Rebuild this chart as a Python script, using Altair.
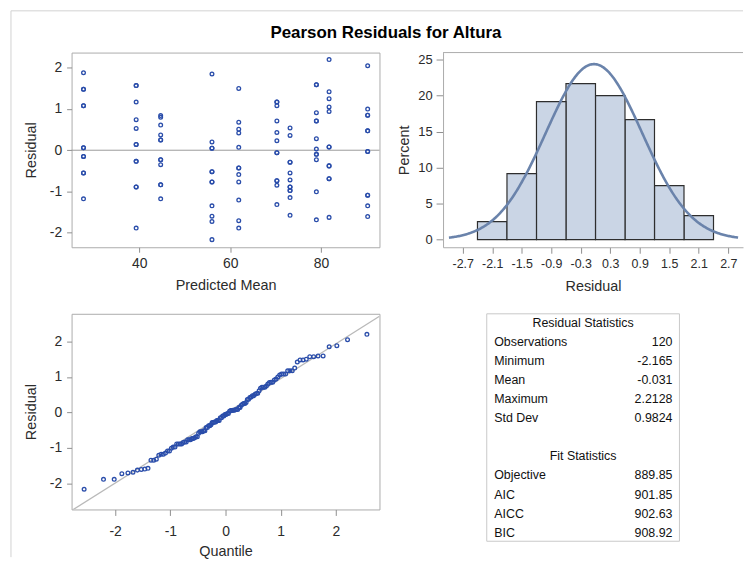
import altair as alt
import pandas as pd
from statistics import NormalDist

# ---------------- data ----------------
pred_means = [27.7, 39.3, 44.7, 56.0, 61.9, 70.3, 73.2, 79.0, 81.8, 90.3]
res_g1 = [1.88, 1.48, 1.48, 1.08, 1.08, 0.06, 0.06, -0.15, -0.15, -0.55, -0.55, -1.18]
res_g2 = [1.57, 1.57, 1.17, 0.74, 0.53, 0.14, 0.14, -0.27, -0.27, -0.89, -0.89, -1.89]
res_g3 = [0.84, 0.80, 0.61, 0.37, 0.25, 0.25, -0.23, -0.23, -0.35, -0.84, -0.84, -1.18]
res_g4 = [1.85, 0.20, 0.05, 0.05, -0.52, -0.52, -0.77, -0.77, -1.35, -1.60, -1.73, -2.17]
res_g5 = [1.50, 0.68, 0.51, 0.42, 0.07, -0.43, -0.43, -0.59, -0.77, -1.21, -1.71, -1.89]
res_g6 = [1.17, 1.17, 1.08, 0.71, 0.43, 0.23, -0.06, -0.06, -0.74, -0.74, -0.85, -1.32]
res_g7 = [0.54, 0.36, -0.29, -0.29, -0.55, -0.72, -0.89, -0.89, -0.98, -0.98, -1.15, -1.58]
res_g8 = [1.59, 1.59, 0.91, 0.71, 0.71, 0.28, 0.03, -0.10, -0.10, -0.23, -1.01, -1.69]
res_g9 = [2.20, 1.42, 1.25, 1.05, 0.94, 0.08, 0.08, -0.38, -0.38, -0.69, -0.69, -1.63]
res_g10 = [2.05, 1.00, 0.85, 0.85, 0.47, 0.47, -0.03, -0.03, -1.09, -1.09, -1.35, -1.61]
residual_groups = [res_g1, res_g2, res_g3, res_g4, res_g5, res_g6, res_g7, res_g8, res_g9, res_g10]

resid_mean = -0.031
resid_sd = 0.9824
bin_width = 0.6
bin_extent = [-2.4, 2.4]

hist_ticks = [-2.7, -2.1, -1.5, -0.9, -0.3, 0.3, 0.9, 1.5, 2.1, 2.7]
pct_ticks = [0, 5, 10, 15, 20, 25]
pred_ticks = [40, 60, 80]
resid_ticks = [-2, -1, 0, 1, 2]
quant_ticks = [-2, -1, 0, 1, 2]

table_label = ["Residual Statistics", "Observations", "Minimum", "Mean", "Maximum", "Std Dev",
               "", "Fit Statistics", "Objective", "AIC", "AICC", "BIC"]
table_value = ["", "120", "-2.165", "-0.031", "2.2128", "0.9824",
               "", "", "889.85", "901.85", "902.63", "908.92"]
table_header = [True, False, False, False, False, False, False, True, False, False, False, False]

chart_title = "Pearson Residuals for Altura"

# ---------------- tables for the library ----------------
rows = []
for pm, grp in zip(pred_means, residual_groups):
    for r in grp:
        rows.append({"pred": pm, "resid": r})
df = pd.DataFrame(rows)
n = len(df)
sorted_res = sorted(df["resid"])
qq_df = pd.DataFrame({
    "resid": sorted_res,
    "quantile": [NormalDist().inv_cdf((i + 1 - 0.375) / (n + 0.25)) for i in range(n)],
})
tab_df = pd.DataFrame({"row": list(range(len(table_label))), "label": table_label,
                       "value": table_value, "header": table_header})
one = pd.DataFrame({"a": [0]})

# ---------------- style ----------------
FONT = "Liberation Sans"
TXT = "#2b2b2b"
FRAME = "#ABABAB"
TICK = "#8E8E8E"
PT = "#2A4DAA"
MINUS_FIX = "replace(datum.label, '\u2212', '-')"

def axis(values, title, fmt, label_size=14, tick=5, label_pad=4, title_pad=6, **kw):
    return alt.Axis(values=values, title=title, format=fmt, labelFontSize=label_size,
                    titleFontSize=14.5, tickSize=tick, labelPadding=label_pad,
                    titlePadding=title_pad, labelExpr=MINUS_FIX, labelOverlap=False,
                    labelFlush=False, **kw)

# ---------------- scatter: residual vs predicted mean ----------------
sx = alt.Scale(domain=[25.07, 92.9], nice=False, zero=False)
sy = alt.Scale(domain=[-2.355, 2.37], nice=False, zero=False)
ax_pred = axis(pred_ticks, "Predicted Mean", "d", title_pad=9)
ax_res1 = axis(resid_ticks, "Residual", "d", label_pad=5, title_pad=11)

pts = alt.Chart(df).mark_point(shape="circle", filled=False, color=PT, size=14,
                               strokeWidth=1.3, opacity=1).encode(
    x=alt.X("pred:Q", scale=sx, axis=ax_pred),
    y=alt.Y("resid:Q", scale=sy, axis=ax_res1),
)
zero_rule = alt.Chart(pd.DataFrame({"resid": [0]})).mark_rule(color="#9A9A9A", strokeWidth=1).encode(
    y=alt.Y("resid:Q", scale=sy, axis=ax_res1))
frame_left = alt.Chart(one).mark_rule(color="#D2D2D2", strokeWidth=1).encode(
    x=alt.value(-61), y=alt.value(-42), y2=alt.value(508))
frame_top = alt.Chart(one).mark_rule(color="#D2D2D2", strokeWidth=1).encode(
    x=alt.value(-61), x2=alt.value(676), y=alt.value(-42))
title_txt = alt.Chart(one).mark_text(text=chart_title, font=FONT, fontSize=17, fontWeight="bold",
                                     color="black", align="center", baseline="middle").encode(
    x=alt.value(316.5), y=alt.value(-20))
scatter = alt.layer(zero_rule, pts, frame_left, frame_top, title_txt).properties(width=310, height=196)

# ---------------- histogram ----------------
hx = alt.Scale(domain=[-3.1, 3.0], nice=False, zero=False)
hy = alt.Scale(domain=[-1.06, 25.97], nice=False, zero=False)
ax_hx = axis(hist_ticks, "Residual", ".1f", label_size=12.5, tick=6, title_pad=10,
             domain=True, domainColor=FRAME)
ax_hy = axis(pct_ticks, "Percent", "d", label_size=13, tick=7, domain=True, domainColor=FRAME)

bars = alt.Chart(df).transform_bin(
    "b0", "resid", bin=alt.Bin(extent=bin_extent, step=bin_width, nice=False)
).transform_aggregate(
    cnt="count()", groupby=["b0", "b0_end"]
).transform_joinaggregate(
    total="sum(cnt)"
).transform_calculate(
    pct="100 * datum.cnt / datum.total"
).mark_rect(fill="#CAD5E5", stroke="#2E2E2E", strokeWidth=1.2).encode(
    x=alt.X("b0:Q", scale=hx, axis=ax_hx),
    x2="b0_end:Q",
    y=alt.Y("pct:Q", scale=hy, axis=ax_hy),
    y2=alt.datum(0),
)
curve = alt.Chart(alt.sequence(-2.98, 2.92, 0.02, as_="b0")).transform_calculate(
    pct=f"100 * {bin_width} * densityNormal(datum.b0, {resid_mean}, {resid_sd})"
).mark_line(color="#6A83AB", strokeWidth=2.6).encode(
    x=alt.X("b0:Q", scale=hx, axis=ax_hx), y=alt.Y("pct:Q", scale=hy, axis=ax_hy))
hist_top = alt.Chart(one).mark_rule(color=FRAME, strokeWidth=1).encode(
    x=alt.value(0), x2=alt.value(302), y=alt.value(0))
hist = alt.layer(bars, curve, hist_top).properties(
    width=302, height=196, view=alt.ViewBackground(stroke="transparent"))

# ---------------- Q-Q plot ----------------
qx = alt.Scale(domain=[-2.79, 2.79], nice=False, zero=False)
qy = alt.Scale(domain=[-2.74, 2.78], nice=False, zero=False)
ax_q = axis(quant_ticks, "Quantile", "d", tick=6, label_pad=9, title_pad=6)
ax_res2 = axis(resid_ticks, "Residual", "d", label_pad=5, title_pad=11)
ref_line = alt.Chart(pd.DataFrame({"quantile": [-2.79, 2.79]})).transform_calculate(
    resid=f"{resid_mean} + {resid_sd} * datum.quantile"
).mark_line(color="#B9B9B9", strokeWidth=1.3, clip=True).encode(
    x=alt.X("quantile:Q", scale=qx, axis=ax_q), y=alt.Y("resid:Q", scale=qy, axis=ax_res2))
qq_pts = alt.Chart(qq_df).mark_point(shape="circle", filled=False, color=PT, size=14,
                                     strokeWidth=1.3, opacity=1).encode(
    x=alt.X("quantile:Q", scale=qx, axis=ax_q),
    y=alt.Y("resid:Q", scale=qy, axis=ax_res2),
)
qq = alt.layer(ref_line, qq_pts).properties(width=310, height=197)

# ---------------- statistics table ----------------
TB_X = 44      # left edge of the box inside its panel
TB_W = 194
ty = alt.Y("row:Q", scale=alt.Scale(domain=[-0.48, 11.45], reverse=True, nice=False, zero=False),
           axis=None)
tbase = alt.Chart(tab_df).encode(y=ty)
t_box = alt.Chart(one).mark_rect(fill="transparent", stroke="#C9C9C9", strokeWidth=1).encode(
    x=alt.value(TB_X), x2=alt.value(TB_X + TB_W), y=alt.value(0), y2=alt.value(229))
t_head = tbase.transform_filter("datum.header").mark_text(
    font=FONT, fontSize=12.5, color="#111111", align="center", baseline="middle").encode(
    x=alt.value(TB_X + 97), text="label:N")
t_lab = tbase.transform_filter("!datum.header").mark_text(
    font=FONT, fontSize=12.5, color="#111111", align="left", baseline="middle").encode(
    x=alt.value(TB_X + 7.5), text="label:N")
t_val = tbase.mark_text(
    font=FONT, fontSize=12.5, color="#111111", align="right", baseline="middle").encode(
    x=alt.value(TB_X + 187), text="value:N")
table = alt.layer(t_box, t_head, t_lab, t_val).properties(
    width=302, height=229, view=alt.ViewBackground(stroke="transparent"))

# ---------------- compose ----------------
PAD = {"left": 2, "top": 0, "right": 0, "bottom": 0}
chart = alt.concat(
    scatter, hist, qq, table, columns=2,
    spacing=alt.RowColnumber(row=67, column=64), bounds="flush",
).properties(
    padding=PAD
).configure(
    padding=PAD
).configure_view(
    stroke=FRAME, strokeWidth=1
).configure_axis(
    domain=False, grid=False, tickColor=TICK, tickWidth=1, labelColor=TXT, titleColor=TXT,
    labelFont=FONT, titleFont=FONT, titleFontWeight="normal", labelFlush=False,
    labelOverlap=False,
)

chart.save("out.html", embed_options={"renderer": "svg", "actions": False})
